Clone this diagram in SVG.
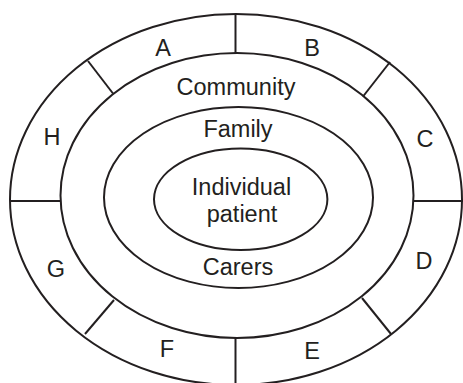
<svg xmlns="http://www.w3.org/2000/svg" width="463" height="383" viewBox="0 0 463 383">
<style>
.ln{fill:none;stroke:#231f20;stroke-width:2}
.t{font-family:"Liberation Sans",Arial,sans-serif;font-size:23.5px;fill:#231f20;text-anchor:middle}
</style>
<rect width="463" height="383" fill="#fff"/>
<g id="outer-ring"><ellipse class="ln" cx="236" cy="199.5" rx="226" ry="185.5"/></g>
<g id="community"><ellipse class="ln" cx="237" cy="195.5" rx="176.5" ry="142.5"/><text class="t" x="236" y="95">Community</text></g>
<g id="family"><ellipse class="ln" cx="238.5" cy="197.5" rx="134.5" ry="90.5"/><text class="t" x="238" y="137">Family</text><text class="t" x="238" y="275">Carers</text></g>
<g id="patient"><ellipse class="ln" cx="240.7" cy="199.2" rx="86.7" ry="50.8"/><text class="t" x="241.5" y="195">Individual</text><text class="t" x="242" y="222">patient</text></g>
<g id="connectors">
<line class="ln" x1="235.5" y1="14" x2="235.5" y2="53"/>
<line class="ln" x1="235.5" y1="338" x2="235.5" y2="383"/>
<line class="ln" x1="10" y1="201" x2="60.5" y2="201"/>
<line class="ln" x1="413.5" y1="201" x2="463" y2="201"/>
<line class="ln" x1="88" y1="61" x2="113" y2="93.5"/>
<line class="ln" x1="390" y1="62" x2="363" y2="96.5"/>
<line class="ln" x1="85" y1="334" x2="114" y2="300"/>
<line class="ln" x1="362" y1="298" x2="391" y2="334"/>
</g>
<g id="segment-labels">
<text class="t" x="163" y="56">A</text>
<text class="t" x="312" y="56">B</text>
<text class="t" x="425" y="147">C</text>
<text class="t" x="424" y="269">D</text>
<text class="t" x="312" y="359">E</text>
<text class="t" x="167" y="357">F</text>
<text class="t" x="56" y="277">G</text>
<text class="t" x="52" y="145">H</text>
</g>
</svg>
